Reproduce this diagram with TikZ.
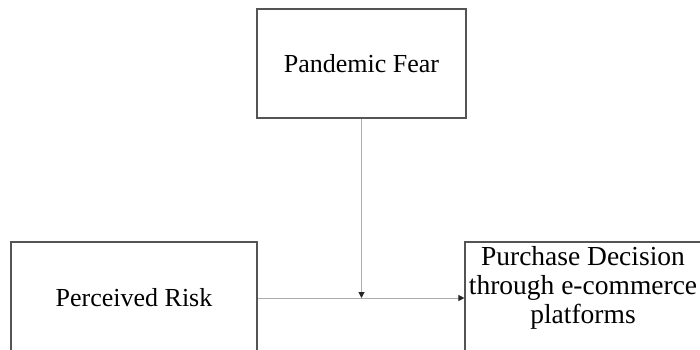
\documentclass[tikz,border=0pt]{standalone}
\usepackage{fontspec}
\setmainfont{Liberation Serif}
\usetikzlibrary{arrows.meta}
\definecolor{boxColor}{rgb}{0.33,0.33,0.33}
\definecolor{edgeColor}{rgb}{0.68,0.68,0.68}
\definecolor{tipColor}{rgb}{0.15,0.15,0.15}

\begin{document}
\begin{tikzpicture}[x=1pt, y=-1pt]

            \tikzstyle{varBox} = [shape = rectangle, draw=boxColor, line width=1.2pt, fill=white, inner sep=0pt];
            \tikzstyle{normalEdge} = [draw=edgeColor, line width=1pt, -{Triangle[length=6pt, width=6pt, fill=tipColor, color=tipColor]}];

            \useasboundingbox (0,0) rectangle (700,349);
            \clip (0,0) rectangle (700,349);

            \node[varBox, minimum width=209pt, minimum height=109pt, font=\fontsize{26}{30}\selectfont] (fear) at (361.5,63.5) {Pandemic Fear};

            \node[varBox, minimum width=246pt, minimum height=112pt, font=\fontsize{26}{30}\selectfont] (risk) at (134,298) {Perceived Risk};

            \node[varBox, minimum width=236pt, minimum height=112pt] (decision) at (583,298) {};
            \node[align=center, inner sep=0pt, font=\fontsize{27.5}{29}\selectfont] (decisionText) at (583,288) {Purchase Decision\\through e-commerce\\platforms};

            \coordinate (meet) at (fear.south |- risk.east);

            \draw[normalEdge] (risk.east) -- (decision.west);
            \draw[normalEdge] (fear.south) -- (meet);
          \end{tikzpicture}
\end{document}
